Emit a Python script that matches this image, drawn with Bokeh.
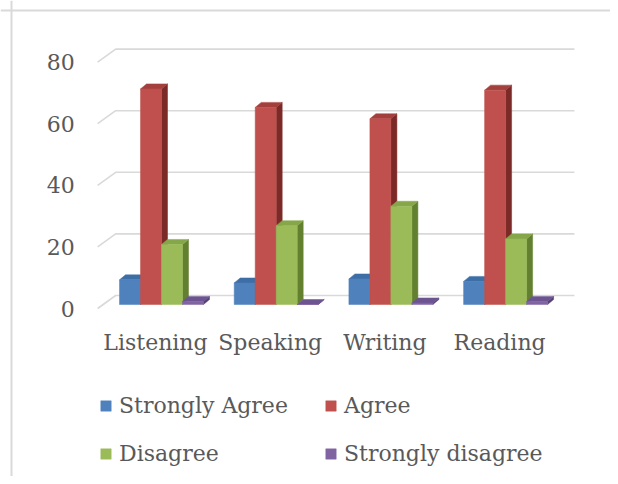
from bokeh.plotting import figure
from bokeh.models import Range1d, Legend, LegendItem, ColumnDataSource, Span
from bokeh.core.properties import value
from bokeh.embed import file_html
from bokeh.resources import INLINE

categories = ["Listening", "Speaking", "Writing", "Reading"]
series = ["Strongly Agree", "Agree", "Disagree", "Strongly disagree"]
strongly_agree = [8, 7, 8.3, 7.5]
agree = [70, 64, 60.3, 69.6]
disagree = [19.5, 25.6, 31.9, 21.3]
strongly_disagree = [1, 0, 0.5, 1]
yticks = [0, 20, 40, 60, 80]

values = [strongly_agree, agree, disagree, strongly_disagree]
front_colors = ["#4f81bd", "#c0504d", "#9bbb59", "#8064a2"]
side_colors = ["#2c5487", "#7c2a28", "#62802f", "#553f75"]
top_colors = ["#3e6ea6", "#a33f3c", "#86a64a", "#6c5490"]

FONT = "DejaVu Serif"
TXT = "#595959"

# pixel scale of the data units (layout only)
PXX = 114.7   # px per category
PXY = 3.08    # px per value unit
W, H = 610, 476

x0 = 0.5 + (0 - 161) / PXX
y_top = 304 / PXY
p = figure(width=W, height=H, output_backend="svg", toolbar_location=None,
           x_range=Range1d(x0, x0 + W / PXX), y_range=Range1d(y_top - H / PXY, y_top),
           x_axis_location=None, y_axis_location=None, min_border=0)
p.grid.visible = False
p.outline_line_color = None
p.background_fill_color = "white"

# chart border (top and left)
p.add_layout(Span(location=x0 + 11 / PXX, dimension="height", line_color="#d9d9d9", line_width=2))
p.add_layout(Span(location=y_top - 10 / PXY, dimension="width", line_color="#d9d9d9", line_width=2))

# 3D walls: front plane / back plane offsets
fx, fy = -6.5 / PXX, -4 / PXY
bx, by = 11.5 / PXX, 9 / PXY
gx = [[fx, bx, len(categories) + bx] for t in yticks]
gy = [[t + fy, t + by, t + by] for t in yticks]
p.multi_line(gx, gy, line_color="#d9d9d9", line_width=1.6)

# y tick labels
p.text(x=[fx] * len(yticks), y=[t + fy for t in yticks], text=[str(t) for t in yticks],
       x_offset=-23, text_align="right", text_baseline="middle",
       text_font=value(FONT), text_font_size="22px", text_color=TXT)

# category labels
p.text(x=[i + 0.5 for i in range(len(categories))], y=[-38 / PXY] * len(categories),
       text=categories, x_offset=-6, text_align="center", text_baseline="middle",
       text_font=value(FONT), text_font_size="22px", text_color=TXT)

# bars
bw = 21 / PXX
dx, dy = 6 / PXX, 5 / PXY
offsets = [(-1.5 + j) * bw for j in range(4)]
legend_items = []
for j, vals in enumerate(values):
    xc = [i + 0.5 + offsets[j] for i in range(len(categories))]
    xl = [c - bw / 2 for c in xc]
    xr = [c + bw / 2 for c in xc]
    side_x = [[r, r + dx, r + dx, r] for r in xr]
    side_y = [[0, dy, v + dy, v] for v in vals]
    top_x = [[l, r, r + dx, l + dx] for l, r in zip(xl, xr)]
    top_y = [[v, v, v + dy, v + dy] for v in vals]
    p.patches(side_x, side_y, fill_color=side_colors[j], line_color=side_colors[j], line_width=0.5)
    p.patches(top_x, top_y, fill_color=top_colors[j], line_color=top_colors[j], line_width=0.5)
    src = ColumnDataSource(dict(x=xc, top=vals))
    r = p.vbar(x="x", top="top", bottom=0, width=bw, source=src,
               fill_color=front_colors[j], line_color=front_colors[j], line_width=0.5)
    legend_items.append(LegendItem(label=series[j], renderers=[r]))

# column-major fill: order so rows read (Strongly Agree, Agree) / (Disagree, Strongly disagree)
ordered = [legend_items[0], legend_items[2], legend_items[1], legend_items[3]]
legend = Legend(items=ordered, ncols=2, location=(99, 10),
                glyph_width=13, glyph_height=13, label_standoff=7, spacing=23,
                label_width=182, padding=0, margin=0,
                border_line_color=None, background_fill_alpha=0,
                label_text_font=FONT, label_text_font_size="22px", label_text_color=TXT)
p.add_layout(legend)

open("out.html", "w").write(file_html(p, INLINE))
